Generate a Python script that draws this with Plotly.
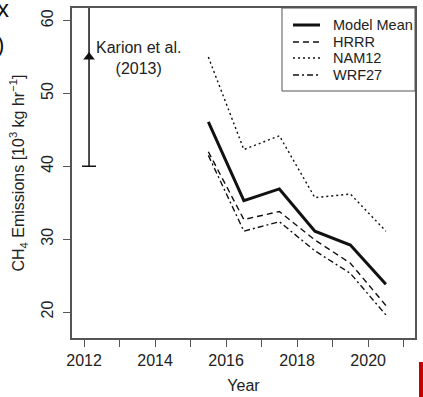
import plotly.graph_objects as go

years = [2015.5, 2016.5, 2017.5, 2018.5, 2019.5, 2020.5]
model_mean = [46.1, 35.3, 36.9, 31.1, 29.2, 23.8]
hrrr = [42.0, 32.7, 33.8, 29.9, 26.7, 20.9]
nam12 = [55.0, 42.3, 44.2, 35.7, 36.2, 31.1]
wrf27 = [41.5, 31.1, 32.4, 28.4, 25.3, 19.6]

karion_year = [2012.14]
karion_value = [55.0]
karion_err = [15.0]

x_tickvals = [2012, 2014, 2016, 2018, 2020]
y_tickvals = [20, 30, 40, 50, 60]

FONT = "Liberation Sans, Arial, sans-serif"
INK = "#111111"
TXT = "#222222"

series = [
    ("Model Mean", model_mean, dict(color=INK, width=3)),
    ("HRRR", hrrr, dict(color=INK, width=1.4, dash="6px,4px")),
    ("NAM12", nam12, dict(color=INK, width=1.4, dash="2px,3px")),
    ("WRF27", wrf27, dict(color=INK, width=1.4, dash="6px,3px,2px,3px")),
]

fig = go.Figure()
for name, vals, ln in series:
    fig.add_trace(go.Scatter(x=years, y=vals, name=name, mode="lines", line=ln, showlegend=False))

fig.add_trace(go.Scatter(x=karion_year, y=karion_value, mode="markers", showlegend=False,
                         marker=dict(symbol="triangle-up", size=10, color=INK),
                         error_y=dict(type="data", array=karion_err, visible=True,
                                      color=INK, thickness=1.5, width=7)))

fig.add_annotation(x=2013.52, y=54.9, text="Karion et al.<br>(2013)", showarrow=False,
                   font=dict(family=FONT, size=16, color=TXT), xanchor="center", yanchor="middle")

# manual legend (paper coords: plot area is 343 x 330 px)
PW, PH = 343.0, 330.0
def px(xp):
    return (xp - 72) / PW
def py(yp):
    return (338 - yp) / PH

fig.add_shape(type="rect", xref="paper", yref="paper", x0=px(282), x1=1.0, y0=py(91), y1=1.0,
              line=dict(color="#555555", width=1), fillcolor="white", layer="above")
row_y = [25, 42, 58, 75]
for (name, vals, ln), ry in zip(series, row_y):
    fig.add_shape(type="line", xref="paper", yref="paper", x0=px(293), x1=px(320), y0=py(ry), y1=py(ry),
                  line=dict(color=ln["color"], width=ln["width"], dash=ln.get("dash", "solid")),
                  layer="above")
    fig.add_annotation(xref="paper", yref="paper", x=px(331), y=py(ry), text=name, showarrow=False,
                       xanchor="left", yanchor="middle",
                       font=dict(family=FONT, size=14.5, color=TXT))

# y-axis title
fig.add_annotation(xref="paper", yref="paper", x=px(19), y=py(173.5), textangle=-90,
                   text="CH<sub>4</sub> Emissions [10<sup>3</sup> kg hr<sup>−1</sup>]",
                   showarrow=False, xanchor="center", yanchor="middle",
                   font=dict(family=FONT, size=16, color=TXT))

# cropped fragments at figure edges
fig.add_annotation(xref="paper", yref="paper", x=px(11), y=py(8), text="x", showarrow=False,
                   xanchor="right", yanchor="middle", font=dict(family=FONT, size=24, color=INK))
fig.add_annotation(xref="paper", yref="paper", x=px(6), y=py(44), text=")", showarrow=False,
                   xanchor="right", yanchor="middle", font=dict(family=FONT, size=22, color=INK))
fig.add_shape(type="rect", xref="paper", yref="paper", x0=px(419), x1=px(430), y0=py(362), y1=py(400),
              fillcolor="#c40000", line=dict(width=0))

axis_common = dict(showgrid=False, zeroline=False, showline=True, linecolor="#555555", linewidth=1.5,
                   mirror=True, ticks="outside", ticklen=7, tickwidth=1, tickcolor="#555555",
                   automargin=False,
                   tickfont=dict(family=FONT, size=16, color=TXT))

fig.update_xaxes(range=[2011.66, 2021.32], tickvals=x_tickvals,
                 minor=dict(dtick=1, tick0=2012, ticks="outside", ticklen=7, tickwidth=1,
                            tickcolor="#555555", showgrid=False),
                 title=dict(text="Year", font=dict(family=FONT, size=16, color=TXT), standoff=12),
                 **axis_common)
fig.update_yaxes(range=[16.43, 61.74], tickvals=y_tickvals, tickangle=-90, ticklabelstandoff=4,
                 **axis_common)

fig.update_layout(
    width=423, height=397,
    margin=dict(l=72, r=8, t=8, b=59),
    plot_bgcolor="white", paper_bgcolor="white",
    font=dict(family=FONT, color=TXT),
    showlegend=False,
)

fig.write_html("out.html", config={"displayModeBar": False},
               post_script="document.body.style.margin='0';document.body.style.overflow='hidden';")
